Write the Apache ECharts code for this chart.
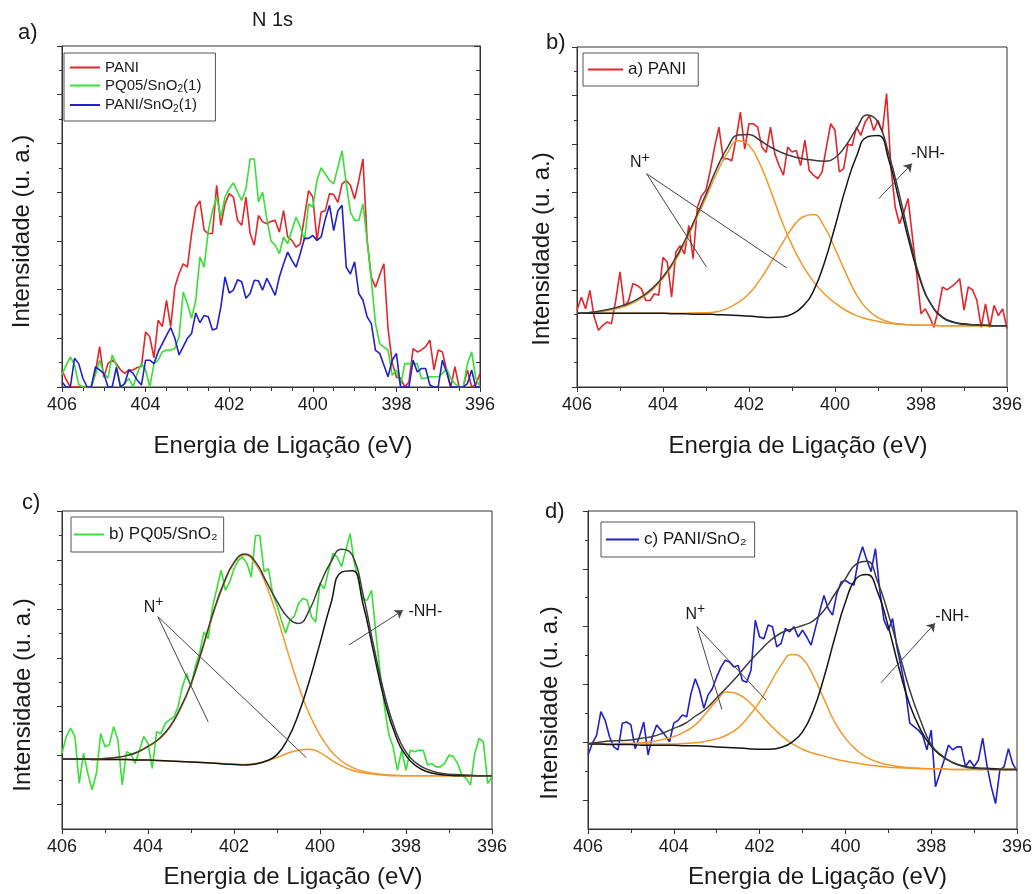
<!DOCTYPE html>
<html><head><meta charset="utf-8">
<script src="https://cdn.jsdelivr.net/npm/echarts@6/dist/echarts.min.js"></script>
<style>html,body{margin:0;padding:0;background:#fff}#c{width:1036px;height:894px}</style>
</head><body><div id="c"></div>
<script>
// ---------- DATA ----------
const energy = [406.0,405.9,405.8,405.7,405.6,405.5,405.4,405.3,405.2,405.1,
405.0,404.9,404.8,404.7,404.6,404.5,404.4,404.3,404.2,404.1,
404.0,403.9,403.8,403.7,403.6,403.5,403.4,403.3,403.2,403.1,
403.0,402.9,402.8,402.7,402.6,402.5,402.4,402.3,402.2,402.1,
402.0,401.9,401.8,401.7,401.6,401.5,401.4,401.3,401.2,401.1,
401.0,400.9,400.8,400.7,400.6,400.5,400.4,400.3,400.2,400.1,
400.0,399.9,399.8,399.7,399.6,399.5,399.4,399.3,399.2,399.1,
399.0,398.9,398.8,398.7,398.6,398.5,398.4,398.3,398.2,398.1,
398.0,397.9,397.8,397.7,397.6,397.5,397.4,397.3,397.2,397.1,
397.0,396.9,396.8,396.7,396.6,396.5,396.4,396.3,396.2,396.1,
396.0];

// panel a)
const paniA = [0.35,0.15,0,0,0,0,0,0,0.3,0.83,
0.2,0.48,0.55,0.48,0.35,0.28,0.35,0.35,0.4,0.42,
1.13,1.03,0.6,1.37,1.24,1.78,1.24,2.05,2.33,2.53,
2.46,3.15,3.69,3.82,3.22,3.15,3.15,4.14,3.32,3.76,
3.97,3.9,3.42,3.32,3.9,3.15,2.91,3.52,3.39,3.35,
3.4,3.42,3.18,3.62,3.08,3.01,2.87,2.94,3.49,4.03,
3.9,3.01,3.59,3.62,3.97,3.95,3.79,4.17,4.24,4.14,
3.86,4.24,4.68,3.0,2.25,2.05,2.3,2.53,1.2,0.5,
0.2,0.18,0,0.1,0.79,0.72,0.76,0.83,0.96,0.35,
0.76,0.72,0.35,0,0.42,0,0,0.35,0,0.05,
0.28];
const pq05A = [0.25,0.45,0.62,0.45,0.05,0,0,0,0.25,0.55,
0.28,0.18,0.66,0.45,0,0.07,0.18,0,0.28,0.48,
0.35,0,0.48,0.55,0.72,0.76,0.76,0.79,1.03,1.95,
1.71,1.41,1.78,2.67,2.46,3.2,3.62,3.9,3.49,3.9,
4.07,4.19,4.0,3.83,4.07,4.68,4.68,3.8,4.0,3.45,
3.0,2.91,2.74,3.08,2.94,3.22,3.49,3.29,3.01,3.76,
3.69,4.24,4.5,4.37,4.24,4.17,4.51,4.85,4.17,3.59,
3.42,3.42,3.76,3.01,2.2,1.3,0.89,0.82,0.76,0.24,
0.35,0.04,0.48,0.48,0.48,0.48,0.18,0.18,0.21,0.21,
0.21,0.28,0.38,0.18,0.07,0,0,0.48,0.72,0.18,
0];
const paniSnA = [0.1,0,0,0.59,0.48,0.18,0,0,0.41,0.35,
0.28,0,0,0.4,0,0.07,0.35,0.28,0.14,0.04,
0.55,0.55,0.48,0.72,0.89,1.06,1.22,1.0,0.66,0.83,
1.0,1.1,1.52,1.32,1.47,1.44,1.17,1.2,1.64,2.26,
1.93,1.99,2.2,2.16,1.82,1.92,2.19,2.18,1.99,2.23,
2.06,1.88,2.26,2.53,2.77,2.6,2.46,2.74,3.05,3.05,
3.11,3.01,3.08,3.45,3.73,3.21,3.62,3.73,2.46,2.32,
2.57,1.92,1.78,1.44,1.3,0.75,0.69,0.45,0.21,0.55,
0.69,0,0,0,0.55,0.31,0.38,0.38,0.04,0,
0,0.55,0.31,0,0,0,0,0.07,0.35,0,
0];

// panel b)
const paniB = [1.58,1.85,1.61,1.99,1.44,1.17,1.27,1.34,1.3,1.78,
2.37,1.65,1.78,2.13,2.09,2.02,1.78,1.78,1.92,1.89,
2.67,2.57,1.85,2.78,2.91,2.74,3.33,2.64,3.7,3.94,
4.05,4.46,4.94,5.35,4.7,4.7,4.66,5.11,5.66,4.9,
5.42,5.42,5.35,4.94,4.83,5.35,4.8,4.56,4.36,4.94,
4.84,4.87,4.56,5.08,4.46,4.36,4.29,4.43,4.94,5.42,
5.28,4.43,4.49,5.0,4.97,5.35,5.18,5.45,5.59,5.28,
5.49,5.25,6.04,4.53,3.7,3.36,3.6,3.88,3.09,2.33,
1.51,1.61,1.44,1.23,1.58,2.06,2.0,2.06,2.13,2.23,
1.58,2.06,2.0,1.78,1.23,1.71,1.23,1.68,1.47,1.61,
1.2];

// panel c)
const pq05C = [1.55,1.89,2.06,1.89,0.93,1.55,1.14,0.8,1.14,1.95,
1.68,1.72,2.09,1.82,0.9,1.58,1.54,1.34,1.61,1.89,
1.75,1.24,1.99,1.95,2.16,2.23,2.29,2.5,2.91,3.18,
2.91,3.32,3.59,4.03,3.89,4.54,4.91,5.29,4.88,5.05,
5.32,5.49,5.56,5.43,5.15,6.0,6.0,5.26,5.32,4.8,
4.57,4.27,4.0,4.27,4.34,4.61,4.71,4.68,4.34,4.23,
5.02,4.91,5.29,5.63,5.56,5.36,5.7,6.04,5.43,5.05,
4.68,4.68,4.88,4.0,3.18,2.5,1.93,1.68,1.2,1.61,
1.2,1.61,1.58,1.61,1.61,1.31,1.34,1.27,1.27,1.34,
1.51,1.48,1.34,1.1,1.03,0.9,1.55,1.85,1.78,0.93,
1.07];

// panel d)
const paniSnD = [1.28,1.48,1.62,2.03,1.88,1.6,1.42,1.37,1.83,1.85,
1.8,1.39,1.6,1.85,1.28,1.6,1.8,1.71,1.62,1.51,
1.83,1.88,1.97,1.94,2.34,2.6,2.4,2.09,2.32,2.43,
2.63,2.8,2.92,2.89,2.8,2.83,2.57,2.54,2.75,3.61,
3.32,3.29,3.53,3.5,3.15,3.21,3.47,3.41,3.5,3.32,
3.44,3.32,3.18,3.47,3.76,4.04,3.81,3.7,4.07,4.27,
4.3,4.25,4.22,4.65,4.88,4.65,4.45,4.85,4.13,3.61,
3.44,3.64,3.15,2.8,2.4,1.83,1.77,1.71,1.62,1.37,
1.71,0.73,0.96,1.19,1.45,1.37,1.42,1.42,1.08,1.19,
1.08,1.19,1.57,1.1,0.73,0.44,1.02,1.08,1.39,1.13,
1.0];

// fitted components, sampled every 0.25 eV
const fitEnergy = [406.0,405.75,405.5,405.25,405.0,404.75,404.5,404.25,404.0,
403.75,403.5,403.25,403.0,402.75,402.5,402.25,402.0,
401.75,401.5,401.25,401.0,400.75,400.5,400.25,400.0,
399.75,399.5,399.25,399.0,398.75,398.5,398.25,398.0,
397.75,397.5,397.25,397.0,396.75,396.5,396.25,396.0];

const fitB_N1 = [1.52,1.53,1.55,1.58,1.63,1.71,1.83,2.0,2.24,
2.55,2.95,3.42,3.9,4.4,4.82,5.07,4.97,
4.6,4.05,3.45,2.92,2.5,2.17,1.92,1.73,
1.58,1.47,1.4,1.35,1.31,1.29,1.28,1.27,
1.27,1.26,1.26,1.26,1.26,1.26,1.26,1.26];
const fitB_N2 = [1.52,1.52,1.52,1.52,1.52,1.52,1.52,1.52,1.52,
1.52,1.52,1.53,1.53,1.55,1.62,1.74,1.92,
2.2,2.55,2.92,3.27,3.5,3.55,3.3,2.85,
2.35,1.9,1.6,1.43,1.34,1.3,1.28,1.27,
1.27,1.26,1.26,1.26,1.26,1.26,1.26,1.26];
const fitB_NH = [1.52,1.52,1.52,1.52,1.52,1.52,1.52,1.52,1.52,
1.51,1.51,1.5,1.5,1.49,1.48,1.47,1.46,
1.44,1.43,1.44,1.5,1.66,1.98,2.55,3.3,
4.1,4.75,5.15,5.18,4.68,3.8,2.9,2.15,
1.68,1.44,1.34,1.3,1.28,1.27,1.26,1.26];
const fitB_env = [1.52,1.53,1.56,1.6,1.66,1.74,1.86,2.03,2.27,
2.59,3.0,3.47,3.97,4.5,4.93,5.19,5.2,
5.08,4.94,4.83,4.75,4.7,4.67,4.65,4.72,
4.97,5.32,5.6,5.45,4.8,3.95,3.0,2.18,
1.68,1.43,1.33,1.29,1.28,1.27,1.26,1.26];

const fitC_N1 = [1.43,1.43,1.43,1.43,1.44,1.46,1.5,1.57,1.68,
1.83,2.07,2.45,2.95,3.62,4.35,4.97,5.43,
5.6,5.42,4.98,4.35,3.62,2.93,2.35,1.92,
1.6,1.39,1.26,1.18,1.14,1.11,1.1,1.09,
1.09,1.09,1.09,1.09,1.09,1.09,1.09,1.09];
const fitC_N2 = [1.43,1.43,1.43,1.42,1.42,1.42,1.42,1.41,1.41,
1.4,1.39,1.38,1.37,1.36,1.35,1.34,1.33,
1.32,1.34,1.39,1.46,1.55,1.61,1.63,1.56,
1.42,1.29,1.2,1.15,1.12,1.1,1.09,1.09,
1.09,1.09,1.09,1.09,1.09,1.09,1.09,1.09];
const fitC_NH = [1.43,1.43,1.43,1.42,1.42,1.42,1.42,1.41,1.41,
1.4,1.39,1.38,1.37,1.36,1.35,1.33,1.32,
1.31,1.33,1.39,1.52,1.84,2.35,3.02,3.8,
4.6,5.25,5.28,4.6,3.6,2.63,1.93,1.5,
1.28,1.17,1.12,1.1,1.09,1.09,1.09,1.09];
const fitC_env = [1.43,1.43,1.43,1.43,1.44,1.46,1.5,1.57,1.69,
1.84,2.08,2.47,2.97,3.65,4.38,5.0,5.45,
5.62,5.46,5.06,4.66,4.33,4.2,4.47,5.0,
5.45,5.72,5.6,4.8,3.73,2.75,2.03,1.57,
1.34,1.22,1.15,1.12,1.11,1.1,1.09,1.09];

const fitD_N1 = [1.47,1.47,1.47,1.48,1.48,1.49,1.51,1.55,1.6,
1.68,1.8,2.0,2.22,2.37,2.33,2.2,2.0,
1.8,1.62,1.48,1.38,1.31,1.26,1.21,1.17,
1.14,1.11,1.09,1.07,1.06,1.05,1.04,1.04,
1.04,1.03,1.03,1.03,1.03,1.03,1.03,1.03];
const fitD_N2 = [1.47,1.47,1.47,1.47,1.47,1.47,1.47,1.47,1.47,
1.48,1.49,1.52,1.56,1.63,1.75,1.95,2.2,
2.52,2.83,3.02,2.95,2.65,2.25,1.85,1.57,
1.37,1.24,1.16,1.11,1.08,1.06,1.05,1.04,
1.04,1.03,1.03,1.03,1.03,1.03,1.03,1.03];
const fitD_NH = [1.47,1.47,1.46,1.46,1.46,1.45,1.45,1.45,1.45,
1.44,1.44,1.43,1.42,1.41,1.4,1.39,1.38,
1.38,1.41,1.5,1.68,2.05,2.62,3.3,3.92,
4.33,4.4,4.1,3.5,2.78,2.15,1.72,1.43,
1.26,1.15,1.09,1.06,1.05,1.04,1.03,1.03];
const fitD_env = [1.48,1.5,1.52,1.53,1.54,1.57,1.6,1.66,1.74,
1.82,1.95,2.08,2.27,2.46,2.66,2.88,3.08,
3.26,3.39,3.46,3.52,3.6,3.78,4.06,4.33,
4.58,4.63,4.28,3.72,3.06,2.4,1.88,1.46,
1.27,1.15,1.08,1.05,1.04,1.03,1.03,1.03];

// annotations (eV, intensity)
const annB = {label:[404.54,4.66], from:[404.38,4.39], to1:[402.99,2.47], to2:[401.12,2.45], nhFrom:[398.98,3.88], nhTo:[398.21,4.6], nhText:[397.84,4.81]};
const annC = {label:[403.87,4.57], from:[403.77,4.34], to1:[402.6,2.19], to2:[400.32,1.46], nhFrom:[399.33,3.76], nhTo:[398.07,4.47], nhText:[397.55,4.45]};
const annD = {label:[403.5,3.75], from:[403.46,3.5], to1:[402.88,2.07], to2:[401.85,2.23], nhFrom:[399.17,2.53], nhTo:[397.91,3.56], nhText:[397.51,3.67]};

const xTickStep = 2;
const yMajorC = [0.5,1.5,2.5,3.5,4.5,5.5,6.5];
const yMinorC = [1,2,3,4,5,6];
const yMajorD = [0.5,1.5,2.5,3.5,4.5,5.5];
const yMinorD = [1,2,3,4,5];

// ---------- STYLE ----------
const FONT = "'Liberation Sans', Arial, Helvetica, sans-serif";
const AX = '#333';
const TXT = '#1a1a1a';
const RED = '#e3262b', GREEN = '#36e036', BLUE = '#2121c9', ORANGE = '#f2982c', BLACK = '#141414', ENV = '#3c3c3c';

const pairs = arr => energy.map((e, i) => [e, arr[i]]);
const fitPairs = arr => fitEnergy.map((e, i) => [e, arr[i]]);

function xAxisFor(i, minorSplit, gap, shift) {
  return {gridIndex: i, type: 'value', min: 396, max: 406, interval: xTickStep, inverse: true,
    axisLine: {show: true, onZero: false, lineStyle: {color: AX, width: 1}},
    axisTick: {show: true, length: 5, lineStyle: {color: AX}},
    minorTick: {show: true, splitNumber: minorSplit, length: 4, lineStyle: {color: AX}},
    axisLabel: {show: true, fontSize: 18, color: TXT, margin: 9, fontFamily: FONT},
    splitLine: {show: false}, minorSplitLine: {show: false},
    name: 'Energia de Ligação (eV)', nameLocation: 'middle', nameGap: gap,
    nameTextStyle: {fontSize: 24, color: TXT, fontFamily: FONT, padding: [0, 0, 0, 2 * shift]}};
}
function yName(gap, shift) {
  return {name: 'Intensidade (u. a.)', nameLocation: 'middle', nameGap: gap,
    nameTextStyle: {fontSize: 24, color: TXT, fontFamily: FONT, padding: [0, 2 * shift, 0, 0]}};
}
const baseY = {type: 'value', axisLabel: {show: false}, splitLine: {show: false},
  axisLine: {show: true, onZero: false, lineStyle: {color: AX, width: 1}}};

const yAxes = [
  Object.assign({}, baseY, yName(28, 15), {gridIndex: 0, position: 'left', min: 0, max: 7, interval: 1,
    axisTick: {length: 5, lineStyle: {color: AX}}, minorTick: {show: true, splitNumber: 2, length: 3, lineStyle: {color: AX}}}),
  Object.assign({}, baseY, {gridIndex: 0, position: 'right', min: 0, max: 7, interval: 1,
    axisTick: {inside: true, length: 6, lineStyle: {color: AX}}, minorTick: {show: true, splitNumber: 2, length: 4, lineStyle: {color: AX}}}),
  Object.assign({}, baseY, yName(23, 32), {gridIndex: 1, position: 'left', min: 0, max: 7, interval: 1,
    axisTick: {length: 5, lineStyle: {color: AX}}, minorTick: {show: true, splitNumber: 2, length: 3, lineStyle: {color: AX}}}),
  Object.assign({}, baseY, yName(27, 25), {gridIndex: 2, position: 'left', min: 0, max: 6.5,
    axisTick: {length: 5, customValues: yMajorC, lineStyle: {color: AX}}}),
  Object.assign({}, baseY, {gridIndex: 2, position: 'left', offset: 0, min: 0, max: 6.5, axisLine: {show: false},
    axisTick: {length: 3, customValues: yMinorC, lineStyle: {color: AX}}}),
  Object.assign({}, baseY, yName(26, 33), {gridIndex: 3, position: 'left', min: 0, max: 5.5,
    axisTick: {length: 5, customValues: yMajorD, lineStyle: {color: AX}}}),
  Object.assign({}, baseY, {gridIndex: 3, position: 'left', offset: 0, min: 0, max: 5.5, axisLine: {show: false},
    axisTick: {length: 3, customValues: yMinorD, lineStyle: {color: AX}}})
];

function line(name, xi, yi, data, color, width, extra) {
  return Object.assign({type: 'line', name: name, xAxisIndex: xi, yAxisIndex: yi, data: data,
    symbol: 'none', showSymbol: false, clip: true, silent: true,
    lineStyle: {color: color, width: width}, itemStyle: {color: color}}, extra || {});
}
function fit(xi, yi, arr, color) {
  return line(undefined, xi, yi, fitPairs(arr), color, 1.5, {smooth: 0.5});
}
const plusRich = {
  n: {fontSize: 16, color: TXT, fontFamily: FONT, lineHeight: 20, verticalAlign: 'bottom'},
  p: {fontSize: 14, color: TXT, fontFamily: FONT, lineHeight: 10, verticalAlign: 'top'},
  t: {fontSize: 16, color: TXT, fontFamily: FONT}
};
function annotations(xi, yi, a) {
  return {type: 'scatter', xAxisIndex: xi, yAxisIndex: yi, symbolSize: 1, silent: true,
    itemStyle: {color: 'rgba(0,0,0,0)'},
    label: {show: true, position: 'inside', color: TXT, opacity: 1, rich: plusRich},
    data: [
      {value: a.label, label: {formatter: '{n|N}{p|+}'}},
      {value: a.nhText, label: {formatter: '{t|-NH-}'}}
    ],
    markLine: {silent: true, animation: false, symbol: ['none', 'none'], symbolSize: 8,
      label: {show: false}, lineStyle: {color: '#444', width: 1, type: 'solid'},
      data: [
        [{coord: a.from}, {coord: a.to1}],
        [{coord: a.from}, {coord: a.to2}],
        [{coord: a.nhFrom, symbol: 'none'}, {coord: a.nhTo, symbol: 'arrow'}]
      ]}
  };
}

const series = [
  line('PANI', 0, 0, pairs(paniA), RED, 1.6),
  line('PQ05/SnO2(1)', 0, 0, pairs(pq05A), GREEN, 1.6),
  line('PANI/SnO2(1)', 0, 0, pairs(paniSnA), BLUE, 1.6),

  line('a) PANI', 1, 2, pairs(paniB), RED, 1.6),
  fit(1, 2, fitB_N1, ORANGE), fit(1, 2, fitB_N2, ORANGE), fit(1, 2, fitB_NH, BLACK), fit(1, 2, fitB_env, ENV),
  annotations(1, 2, annB),

  line('b) PQ05/SnO₂', 2, 3, pairs(pq05C), GREEN, 1.6),
  fit(2, 3, fitC_N1, ORANGE), fit(2, 3, fitC_N2, ORANGE), fit(2, 3, fitC_NH, BLACK), fit(2, 3, fitC_env, ENV),
  annotations(2, 3, annC),

  line('c) PANI/SnO₂', 3, 5, pairs(paniSnD), BLUE, 1.6),
  fit(3, 5, fitD_N1, ORANGE), fit(3, 5, fitD_N2, ORANGE), fit(3, 5, fitD_NH, BLACK), fit(3, 5, fitD_env, ENV),
  annotations(3, 5, annD)
];

const legendBase = {show: true, selectedMode: false, orient: 'vertical', icon: 'rect', itemWidth: 30, itemHeight: 2,
  borderColor: '#555', borderWidth: 1, borderRadius: 0, backgroundColor: '#fff',
  textStyle: {fontFamily: FONT, color: TXT, fontSize: 17}};
const subRich = {
  t: {fontSize: 15, fontFamily: FONT, color: TXT, lineHeight: 18},
  s: {fontSize: 10, fontFamily: FONT, color: TXT, lineHeight: 8, verticalAlign: 'bottom'}
};
const legends = [
  Object.assign({}, legendBase, {left: 64, top: 53, itemGap: 3, padding: [7, 14, 7, 6],
    data: ['PANI', 'PQ05/SnO2(1)', 'PANI/SnO2(1)'],
    textStyle: {fontFamily: FONT, color: TXT, fontSize: 15, rich: subRich},
    formatter: n => n.indexOf('SnO2') >= 0 ? '{t|' + n.split('SnO2')[0] + 'SnO}{s|2}{t|' + n.split('SnO2')[1] + '}' : '{t|' + n + '}'}),
  Object.assign({}, legendBase, {left: 583, top: 53, itemWidth: 35, padding: [8, 12, 8, 5], data: ['a) PANI']}),
  Object.assign({}, legendBase, {left: 71, top: 517, padding: [9, 6, 9, 3], data: ['b) PQ05/SnO₂']}),
  Object.assign({}, legendBase, {left: 601, top: 522, itemWidth: 33, padding: [9, 8, 9, 5], data: ['c) PANI/SnO₂']})
];

const titleStyle = s => ({fontSize: s, fontWeight: 'normal', color: TXT, fontFamily: FONT});
const option = {
  animation: false,
  backgroundColor: '#fff',
  textStyle: {fontFamily: FONT},
  title: [
    {text: 'N 1s', left: 252, top: 10, padding: 0, textStyle: titleStyle(20)},
    {text: 'a)', left: 18, top: 22, padding: 0, textStyle: titleStyle(22)},
    {text: 'b)', left: 546, top: 32, padding: 0, textStyle: titleStyle(22)},
    {text: 'c)', left: 22, top: 492, padding: 0, textStyle: titleStyle(22)},
    {text: 'd)', left: 545, top: 501, padding: 0, textStyle: titleStyle(22)}
  ],
  legend: legends,
  grid: [
    {left: 62, top: 46, width: 418, height: 341, show: true, borderColor: AX, borderWidth: 1},
    {left: 577, top: 47, width: 430, height: 340, show: true, borderColor: AX, borderWidth: 1},
    {left: 62, top: 511, width: 430, height: 318, show: true, borderColor: AX, borderWidth: 1},
    {left: 588, top: 511, width: 429, height: 318, show: true, borderColor: AX, borderWidth: 1}
  ],
  xAxis: [xAxisFor(0, 4, 47, 12), xAxisFor(1, 2, 47, 6), xAxisFor(2, 2, 36, 16), xAxisFor(3, 2, 36, 15)],
  yAxis: yAxes,
  series: series
};
const chart = echarts.init(document.getElementById('c'), null, {renderer: 'canvas'});
chart.setOption(option);
</script></body></html>
